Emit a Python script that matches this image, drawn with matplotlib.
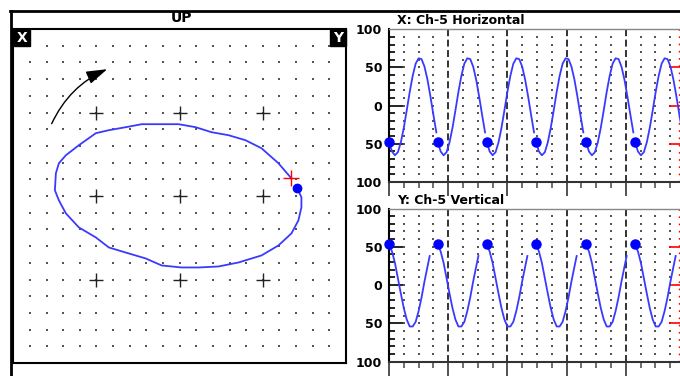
import matplotlib
matplotlib.use('Agg')
import matplotlib.pyplot as plt
from matplotlib.patches import Rectangle, FancyArrowPatch
from matplotlib.lines import Line2D
import numpy as np

plt.rcParams['lines.scale_dashes'] = False

# XY view, in grid units (centre cross = 0,0, one dot = 1)
trace_x = [6.68, 5.94, 4.92, 3.96, 2.94, 1.92, 0.96, -0.06, -1.26, -2.28, -3.24,
           -4.26, -5.04, -6.06, -6.84, -7.26, -7.44, -7.50, -7.26, -6.84, -6.06,
           -5.04, -4.26, -3.06, -2.04, -1.08, 0.12, 1.14, 2.34, 3.54, 4.92, 5.94,
           6.72, 7.14, 7.32, 7.32, 7.08]
trace_y = [1.10, 1.96, 2.86, 3.34, 3.64, 3.82, 4.12, 4.30, 4.30, 4.30, 4.12,
           3.94, 3.76, 3.04, 2.44, 1.96, 1.36, 0.34, -0.26, -1.04, -1.88,
           -2.48, -3.08, -3.44, -3.74, -4.16, -4.28, -4.28, -4.22, -3.98, -3.56, -2.96,
           -2.24, -1.46, -0.68, -0.08, 0.46]
cursor_xy = (6.68, 1.10)
head_xy = (7.08, 0.46)
cross_pos = [-5, 0, 5]
arrow_from = (-7.76, 4.18)
arrow_to = (-4.2, 7.66)

# time traces (x in tick units), one sweep repeated from each start
sweep_starts = [0, 3.29, 6.6, 9.93, 13.31, 16.62]
horiz_offsets = [0, 0.2, 0.4, 0.6, 0.8, 1.0, 1.2, 1.4, 1.6, 1.8, 2.0, 2.2, 2.4, 2.6, 2.8, 3.0, 3.2]
horiz_values = [-47, -60, -65, -61, -48, -29, -6, 18, 39, 55, 62, 61, 51, 34, 12, -12, -35]
horiz_marker = -47
vert_offsets = [0, 0.2, 0.4, 0.6, 0.8, 1.0, 1.2, 1.4, 1.6, 1.8, 2.0, 2.2, 2.4, 2.6, 2.75]
vert_values = [53, 44, 29, 9, -11, -30, -45, -54, -54, -48, -34, -16, 5, 24, 38]
vert_marker = 54
ytick_vals = [100, 50, 0, -50, -100]
ytick_labels = ['100', '50', '0', '50', '100']
cursor_t = 19.6
cursor_levels = [50, 0, -50]

W, H = 680, 376


def fx(x):
    return x / W


def fy(y):
    return 1 - y / H


def box(x0, y0, x1, y1):
    return [x0 / W, 1 - y1 / H, (x1 - x0) / W, (y1 - y0) / H]


fig = plt.figure(figsize=(6.8, 3.76), dpi=100)

# outer frame
fig.add_artist(Line2D([fx(9.5), 1], [fy(11), fy(11)], color='black', lw=2, transform=fig.transFigure))
fig.add_artist(Line2D([fx(10.5), fx(10.5)], [fy(11), 0], color='black', lw=2, transform=fig.transFigure))

# ---- XY panel ----
ax = fig.add_axes(box(13.3, 29, 346, 363))
ax.set_xlim(-10, 10)
ax.set_ylim(-10, 10)
ax.set_xticks([])
ax.set_yticks([])
for s in ax.spines.values():
    s.set_linewidth(1.5)
    s.set_color('black')
g = np.arange(-9, 10)
gx, gy = np.meshgrid(g, g)
ax.scatter(gx.ravel(), gy.ravel(), s=1.3, marker='s', color='#555555', linewidths=0)
cx, cy = np.meshgrid(cross_pos, cross_pos)
ax.plot(cx.ravel(), cy.ravel(), '+', ms=10, mew=1, color='#222222', ls='none')
ax.plot(trace_x, trace_y, color='#3a3aff', lw=1.3)
ax.plot(*cursor_xy, '+', color='red', ms=11, mew=1)
ax.plot(*head_xy, 'o', color='blue', ms=6)
ax.add_patch(FancyArrowPatch(arrow_from, arrow_to, connectionstyle='arc3,rad=-0.2',
                             arrowstyle='-|>,head_length=0.8,head_width=0.25',
                             mutation_scale=16, color='black', lw=1))

fig.text(fx(181), fy(18.5), 'UP', ha='center', va='center', fontsize=10, fontweight='bold')
for lbl, x0 in [('X', 14), ('Y', 330)]:
    fig.add_artist(Rectangle((fx(x0), fy(46)), 16 / W, 17 / H, color='black',
                             transform=fig.transFigure))
    fig.text(fx(x0 + 8), fy(37.5), lbl, color='white', fontweight='bold', fontsize=10,
             ha='center', va='center')


# ---- time panels ----
def trace_axes(rect, title, title_y, offsets, values, marker_val):
    a = fig.add_axes(rect)
    a.set_xlim(0, 20)
    a.set_ylim(-100, 100)
    # grid dots and dashed major lines
    tx = [t for t in range(1, 20) if t % 4]
    dx, dy = np.meshgrid(tx, range(-90, 100, 10))
    a.scatter(dx.ravel(), dy.ravel(), s=1.3, marker='s', color='#555555', linewidths=0)
    a.vlines(range(4, 20, 4), -100, 100, colors='#333333', lw=1.4, linestyles=(0, (5, 2.5)))
    # red cursor
    a.vlines([cursor_t], -100, 100, colors='red', lw=1, linestyles=(0, (1.2, 4)))
    a.hlines(cursor_levels, cursor_t - 0.7, 20, colors='red', lw=1.2)
    for t0 in sweep_starts:
        a.plot([t0 + o for o in offsets], values, color='#3a3aff', lw=1.3)
    a.plot(sweep_starts, [marker_val] * len(sweep_starts), 'o', color='blue', ms=6.5,
           ls='none', clip_on=False, zorder=5)

    a.set_yticks(ytick_vals)
    a.set_yticklabels(ytick_labels, fontweight='bold', fontsize=9)
    a.set_yticks(range(-90, 100, 10), minor=True)
    a.tick_params(axis='y', which='major', direction='in', length=10, width=1.2, pad=5)
    a.tick_params(axis='y', which='minor', direction='in', length=4, width=1.2)
    for tk in a.yaxis.get_major_ticks():
        if abs(tk.get_loc()) == 100:
            tk.tick1line.set_visible(False)
    a.set_xticks(range(0, 21, 4))
    a.set_xticks(range(0, 21), minor=True)
    a.tick_params(axis='x', which='major', direction='out', length=10, width=1.2,
                  color='#333333', labelbottom=False)
    a.tick_params(axis='x', which='minor', direction='out', length=4.3, width=1.2,
                  color='#555555')
    a.spines['top'].set_color('#888888')
    a.spines['top'].set_linewidth(1)
    a.spines['left'].set_linewidth(1.5)
    a.spines['bottom'].set_linewidth(1.5)
    a.spines['bottom'].set_color('#333333')
    a.spines['right'].set_visible(False)
    fig.text(fx(397), fy(title_y), title, ha='left', va='center', fontweight='bold', fontsize=9)
    return a


trace_axes(box(389, 29.3, 685, 182), 'X: Ch-5 Horizontal', 21,
           horiz_offsets, horiz_values, horiz_marker)
trace_axes(box(389, 208.5, 685, 361.7), 'Y: Ch-5 Vertical', 200,
           vert_offsets, vert_values, vert_marker)

fig.savefig('out.png', dpi=100, facecolor='white')
